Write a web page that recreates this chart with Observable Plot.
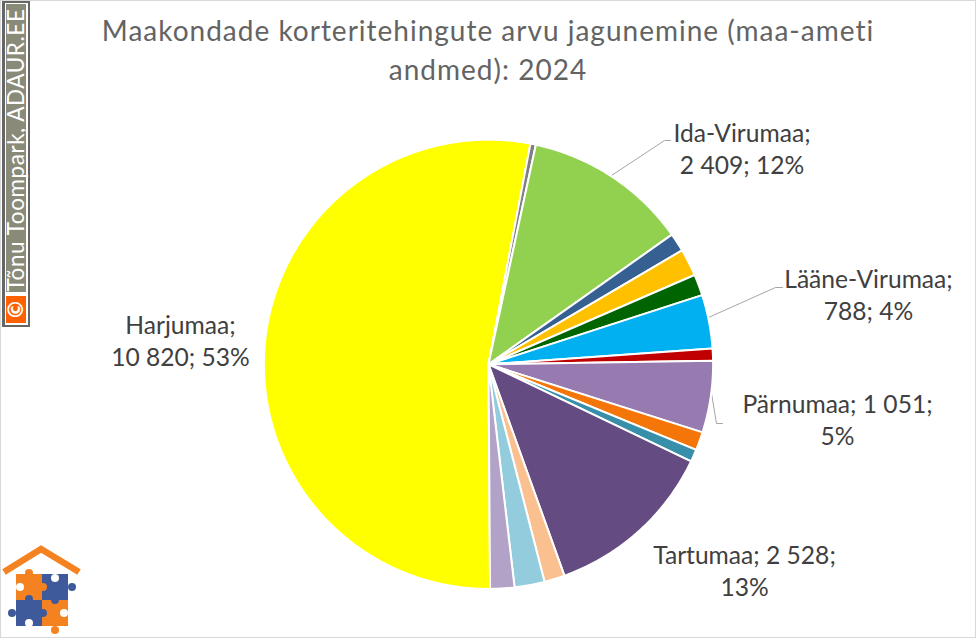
<!DOCTYPE html>
<html lang="et">
<head>
<meta charset="utf-8">
<script src="https://cdn.jsdelivr.net/npm/d3@7"></script>
<script src="https://cdn.jsdelivr.net/npm/@observablehq/plot@0.6"></script>
<style>
  html, body { margin: 0; padding: 0; background: #fff; }
  #page { position: relative; width: 976px; height: 638px; overflow: hidden; box-sizing: border-box; }
  #frame { position: absolute; inset: 0 0 0 0; border: 1.5px solid #d9d9d9; box-sizing: border-box; pointer-events: none; }
  figure { margin: 0 !important; }
  h2 { margin: 0; padding: 10.5px 0 0 0; height: 89.5px; box-sizing: content-box; width: 976px; text-align: center;
       font: 400 28px/39px Lato, sans-serif; color: #636363; letter-spacing: 1px; font-variant-ligatures: none; }
  #mark { position: absolute; left: 2px; top: 0; width: 28px; height: 327px; background: #666; box-sizing: border-box; padding: 2.5px; }
  #mark .in { position: relative; width: 100%; height: 100%; background: #fff; padding: 1.5px; box-sizing: border-box; }
  #mark .txt { position: absolute; left: 1.5px; right: 1.5px; top: 1.5px; height: 288px; background: #8a8a78; }
  #mark .txt span { position: absolute; left: 50%; bottom: 1px; transform-origin: 0 100%; transform: rotate(-90deg) translateY(50%); white-space: nowrap;
        font: 400 22.5px/1 Lato, sans-serif; color: #fff; letter-spacing: 0.55px; font-variant-ligatures: none; }
  #mark .c { position: absolute; left: 1.5px; right: 1.5px; bottom: 1.5px; height: 27px; background: #ff6000; color: #fff;
        font: 700 21px/27px "DejaVu Sans", sans-serif; text-align: center; }
  #mark .c span { display: inline-block; transform: rotate(-90deg); }
  #logo { position: absolute; left: 0; top: 545px; }
</style>
</head>
<body>
<div id="page"><div id="chart"></div>
  <div id="mark"><div class="in"><div class="txt"><span>Tõnu Toompark, ADAUR.EE</span></div><div class="c"><span>©</span></div></div></div>
  <svg id="logo" width="84" height="92" viewBox="0 0 84 92">
    <path d="M4 27 L41 4 L79 27" fill="none" stroke="#f58220" stroke-width="6.5"/>
    <rect x="16" y="29" width="27" height="27" fill="#f58220"/><rect x="42" y="29" width="26" height="27" fill="#3f5a9b"/>
    <rect x="16" y="55" width="27" height="26" fill="#3f5a9b"/><rect x="42" y="55" width="26" height="26" fill="#f58220"/>
    <circle cx="29" cy="28" r="4" fill="#f58220"/><circle cx="43" cy="42" r="4" fill="#f58220"/><circle cx="20" cy="42" r="4" fill="#fff"/>
    <circle cx="55" cy="33" r="4" fill="#fff"/><circle cx="72" cy="42" r="4" fill="#3f5a9b"/><circle cx="55" cy="55" r="4" fill="#3f5a9b"/>
    <circle cx="29" cy="54" r="4" fill="#3f5a9b"/><circle cx="12" cy="68" r="4" fill="#3f5a9b"/><circle cx="43" cy="68" r="4" fill="#3f5a9b"/><circle cx="29" cy="78" r="4" fill="#fff"/>
    <circle cx="64" cy="68" r="4" fill="#fff"/><circle cx="55" cy="85" r="4" fill="#f58220"/>
  </svg>
  <div id="frame"></div>
</div>
<script>
// ---- data ----
const counties = ["Harjumaa","Hiiumaa","Ida-Virumaa","Jõgevamaa","Järvamaa","Läänemaa","Lääne-Virumaa","Põlvamaa","Pärnumaa","Raplamaa","Saaremaa","Tartumaa","Valgamaa","Viljandimaa","Võrumaa"];
const deals = [10820,80,2409,270,400,310,788,175,1051,270,180,2528,300,440,355];
const colors = ["#ffff00","#7f7f7f","#92d050","#376092","#ffc000","#006400","#00b0f0","#c00000","#977bb0","#f57608","#378fa9","#644c82","#fac090","#93cddd","#b3a2c7"];
const titleText = "Maakondade korteritehingute arvu jagunemine (maa-ameti\nandmed): 2024";
const labelTexts = ["Harjumaa;\n10 820; 53%","Ida-Virumaa;\n2 409; 12%","Lääne-Virumaa;\n788; 4%","Pärnumaa; 1 051;\n5%","Tartumaa; 2 528;\n13%"];

// ---- layout (page pixels used as the scale's domain) ----
const titleH = 100, W = 976, H = 638;
const CX = 488, CY = 363.8, R = 224.6, START = 179.6 * Math.PI / 180;
const labelX = [180,741.5,868,837,744], labelY = [341,149,295,420,571].map(y => y - 2);
const leaders = [
  [[611,175],[664,140],[670,140]],
  [[708,317],[775,287],[782,287]],
  [[711,393],[716,423],[722,423]]
];

// ---- slices from values ----
const arcs = d3.pie().sort(null).startAngle(START).endAngle(START + 2 * Math.PI)(deals);
const slicePts = arcs.flatMap((a, i) => {
  const n = Math.max(2, Math.ceil((a.endAngle - a.startAngle) * 90));
  const pts = [{i, x: CX, y: CY}];
  for (let k = 0; k <= n; k++) {
    const t = a.startAngle + (a.endAngle - a.startAngle) * k / n;
    pts.push({i, x: CX + R * Math.sin(t), y: CY - R * Math.cos(t)});
  }
  pts.push({i, x: CX, y: CY});
  return pts;
});
const labelData = labelTexts.map((t, i) => ({t, x: labelX[i], y: labelY[i]}));
const leaderPts = leaders.flatMap((l, i) => l.map(([x, y]) => ({i, x, y})));

const h2 = document.createElement("h2");
h2.innerHTML = titleText.replace("\n", "<br>");

const fig = Plot.plot({
  width: W, height: H - titleH,
  margin: 0,
  title: h2,
  x: {domain: [0, W], range: [0, W], axis: null},
  y: {domain: [titleH, H], range: [0, H - titleH], axis: null},
  color: {type: "ordinal", domain: d3.range(counties.length), range: colors, legend: false},
  style: {background: "transparent", overflow: "visible"},
  marks: [
    Plot.line(leaderPts, {x: "x", y: "y", z: "i", stroke: "#a6a6a6", strokeWidth: 1, curve: "linear"}),
    Plot.line(slicePts, {x: "x", y: "y", z: "i", fill: "i", stroke: "#fff", strokeWidth: 2, strokeLinejoin: "round", curve: "linear",
      title: d => counties[d.i] + ": " + deals[d.i]}),
    Plot.text(labelData, {x: "x", y: "y", text: "t", fill: "#404040", fontSize: 24.6, fontFamily: "Lato, sans-serif", lineHeight: 1.3, textAnchor: "middle", lineAnchor: "middle"})
  ]
});
document.getElementById("chart").append(fig);
</script>
</body>
</html>
